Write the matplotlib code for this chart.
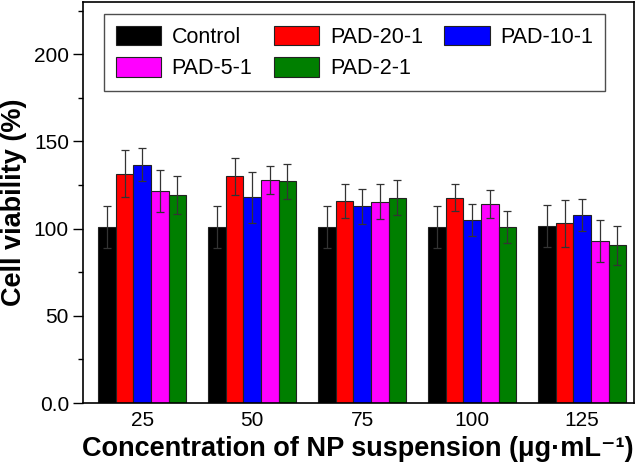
import numpy as np
import matplotlib
matplotlib.use("Agg")
import matplotlib.pyplot as plt
from matplotlib.ticker import MultipleLocator

plt.rcParams["font.family"] = ["Liberation Sans", "DejaVu Sans"]

conc = ["25", "50", "75", "100", "125"]
names = ["Control", "PAD-20-1", "PAD-10-1", "PAD-5-1", "PAD-2-1"]
colors = ["#000000", "#ff0000", "#0000ff", "#ff00ff", "#007f00"]

control = [101, 101, 101, 101, 101.7]
pad20 = [131.6, 130, 115.9, 117.8, 103]
pad10 = [136.6, 118, 112.8, 105, 108]
pad5 = [121.7, 128, 115.5, 114.2, 93]
pad2 = [119.2, 127.2, 117.8, 101, 90.4]

err_control = [12, 12, 12, 12, 12]
err_pad20 = [13.5, 10.6, 9.8, 7.9, 13.4]
err_pad10 = [9.5, 14.6, 10, 9, 9.2]
err_pad5 = [12, 8, 10, 8, 12]
err_pad2 = [11, 10, 10.2, 9, 11]

vals = [control, pad20, pad10, pad5, pad2]
errs = [err_control, err_pad20, err_pad10, err_pad5, err_pad2]

fig = plt.figure(figsize=(6.37, 4.66), dpi=100)
ax = fig.add_axes([0.130, 0.135, 0.865, 0.861])

x = np.arange(1, len(conc) + 1)
w = 0.16
bars = []
for i, (v, e, c, n) in enumerate(zip(vals, errs, colors, names)):
    pos = x + (i - 2) * w
    b = ax.bar(pos, v, w, color=c, edgecolor="#222222", lw=0.8, label=n, zorder=2)
    ax.errorbar(pos, v, yerr=e, fmt="none", ecolor="#333333", elinewidth=0.9,
                capsize=3, capthick=0.9, zorder=3)
    bars.append(b)

ax.set_xlim(0.46, 5.47)
ax.set_ylim(0, 230)
ax.set_xticks(x)
ax.set_xticklabels(conc)
ax.set_yticks([0, 50, 100, 150, 200])
ax.set_yticklabels(["0.0", "50", "100", "150", "200"])
ax.yaxis.set_minor_locator(MultipleLocator(25))
ax.tick_params(axis="both", labelsize=15, width=1, length=7, direction="out")
ax.tick_params(axis="y", pad=3)
ax.tick_params(axis="x", length=0, pad=6)
ax.tick_params(axis="y", which="minor", length=3.5, width=1)
for s in ax.spines.values():
    s.set_linewidth(1.2)

ax.set_ylabel("Cell viability (%)", fontsize=19.5, fontweight="bold", labelpad=5)
ax.set_xlabel("Concentration of NP suspension (\u03bcg\u00b7mL\u207b\u00b9)",
              fontsize=19.5, fontweight="bold", labelpad=4)

order = [0, 3, 1, 4, 2]
leg = ax.legend([bars[k] for k in order], [names[k] for k in order], ncol=3,
                loc="upper left", bbox_to_anchor=(0.038, 0.97), borderaxespad=0,
                fontsize=15.5, frameon=True, fancybox=False, edgecolor="#222222",
                handlelength=2.1, handleheight=1.0, columnspacing=1.0,
                handletextpad=0.5, borderpad=0.55, labelspacing=0.45)
leg.get_frame().set_linewidth(1.0)

fig.savefig("out.png", dpi=100)
